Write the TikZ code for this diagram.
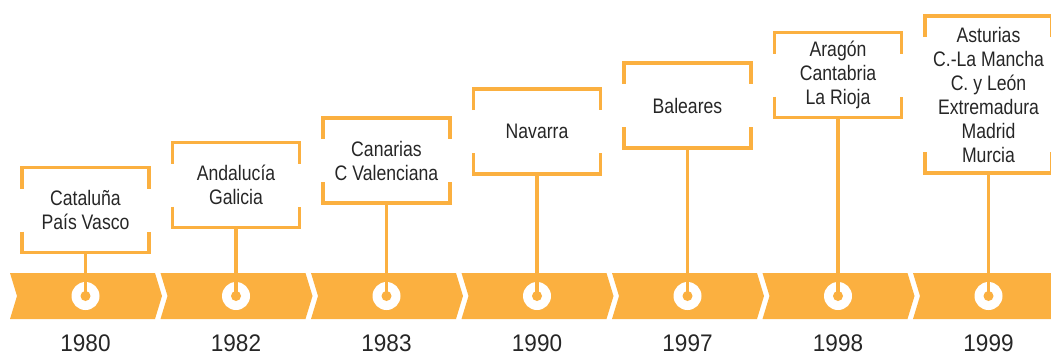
\documentclass[tikz,border=0pt]{standalone}
\usepackage{fontspec}
\setmainfont{Liberation Sans}[FakeStretch=0.84]
\newfontfamily\yearfont{Liberation Sans}[FakeStretch=0.94]
\definecolor{tlorange}{HTML}{FBB040}
\definecolor{tltext}{HTML}{262626}
\newcommand\drawbracket[1]{%
  \draw[bracket] ([yshift=-21pt]#1.north west) -- (#1.north west) -- (#1.north east) -- ([yshift=-21pt]#1.north east);
  \draw[bracket] ([yshift=21pt]#1.south west) -- (#1.south west) -- (#1.south east) -- ([yshift=21pt]#1.south east);}
\begin{document}
\begin{tikzpicture}[x=1pt,y=-1pt,
  labelbox/.style={minimum width=127pt,minimum height=85pt,inner sep=0pt,outer sep=0pt,align=center,text=tltext,font=\fontsize{21}{24}\selectfont},
  bracket/.style={draw=tlorange,line width=3.2pt},
  stem/.style={draw=tlorange,line width=3.2pt},
  ring/.style={circle,fill=white,minimum size=28pt,inner sep=0pt},
  dot/.style={circle,fill=tlorange,minimum size=10pt,inner sep=0pt},
  year/.style={text=tltext,font=\yearfont\fontsize{24}{24}\selectfont,anchor=base,inner sep=0pt}]
\useasboundingbox (0,0) rectangle (1051,354);
\clip (0,0) rectangle (1051,354);
\foreach \i in {0,...,6}{
  \pgfmathsetmacro\L{10+150.5*\i}
  \fill[tlorange] (\L,273) -- (\L+145,273) -- (\L+152,296) -- (\L+145,319) -- (\L,319) -- (\L+7,296) -- cycle;
}
% rings
\node[ring] (c1) at (85.5,296) {};
\node[ring] (c2) at (236,296) {};
\node[ring] (c3) at (386.5,296) {};
\node[ring] (c4) at (537,296) {};
\node[ring] (c5) at (687.5,296) {};
\node[ring] (c6) at (838,296) {};
\node[ring] (c7) at (988.5,296) {};
\foreach \k in {1,...,7}{\node[dot] (d\k) at (c\k) {};}
% boxes
\node[labelbox] (b1) at (85.5,210) {Cataluña\\País Vasco};
\node[labelbox] (b2) at (236,185) {Andalucía\\Galicia};
\node[labelbox] (b3) at (386.5,160.5) {Canarias\\C Valenciana};
\node[labelbox] (b4) at (537,131.5) {Navarra};
\node[labelbox] (b5) at (687.5,105.5) {Baleares};
\node[labelbox] (b6) at (838,75) {Aragón\\Cantabria\\La Rioja};
\node[labelbox,minimum height=157pt] (b7) at (988.5,94.5) {Asturias\\C.-La Mancha\\C. y León\\Extremadura\\Madrid\\Murcia};
\foreach \k in {1,...,7}{\drawbracket{b\k}\draw[stem] (b\k.south) -- (c\k.center);}
% years
\node[year] (y1) at (85.5,351) {1980};
\node[year] (y2) at (236,351) {1982};
\node[year] (y3) at (386.5,351) {1983};
\node[year] (y4) at (537,351) {1990};
\node[year] (y5) at (687.5,351) {1997};
\node[year] (y6) at (838,351) {1998};
\node[year] (y7) at (988.5,351) {1999};
\end{tikzpicture}
\end{document}
